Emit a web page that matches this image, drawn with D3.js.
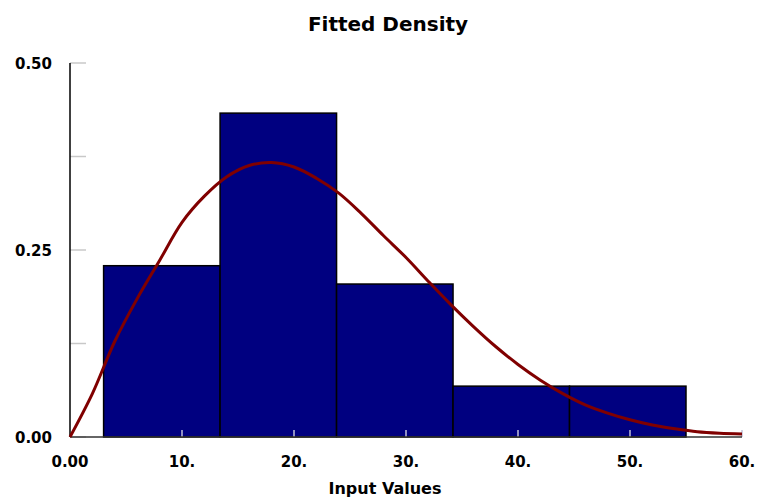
<!DOCTYPE html>
<html><head><meta charset="utf-8">
<script src="https://cdn.jsdelivr.net/npm/d3@7/dist/d3.min.js"></script>
<style>html,body{margin:0;padding:0;background:#fff;}svg{display:block;}</style>
</head><body>
<script>
const title = "Fitted Density";
const xTitle = "Input Values";
const binStarts = [3.0, 13.4, 23.8, 34.2, 44.6];
const binEnds = [13.4, 23.8, 34.2, 44.6, 55.0];
const binDensity = [0.229, 0.433, 0.2045, 0.068, 0.068];
const curveX = [0, 2, 4, 6, 8, 10, 12, 14, 16, 18, 20, 22, 24, 26, 28, 30, 32, 34, 36, 38, 40, 42, 44, 46, 48, 50, 52, 54, 56, 58, 60];
const curveY = [0, 0.058, 0.128, 0.185, 0.236, 0.287, 0.322, 0.348, 0.363, 0.367, 0.361, 0.346, 0.326, 0.299, 0.269, 0.240, 0.208, 0.177, 0.148, 0.121, 0.097, 0.076, 0.058, 0.043, 0.032, 0.023, 0.016, 0.011, 0.007, 0.005, 0.004];
const xTicks = [0, 10, 20, 30, 40, 50, 60];
const xTickLabels = ["0.00", "10.", "20.", "30.", "40.", "50.", "60."];
const yTicks = [0, 0.125, 0.25, 0.375, 0.5];
const yTickLabels = ["0.00", "", "0.25", "", "0.50"];

const W = 757, H = 502;
const svg = d3.select("body").append("svg").attr("width", W).attr("height", H);
const x = d3.scaleLinear().domain([0, 60]).range([70, 742]);
const y = d3.scaleLinear().domain([0, 0.5]).range([437, 63]);
const font = "'DejaVu Sans', Verdana, sans-serif";

// bars
svg.append("g").selectAll("rect").data(binDensity).join("rect")
  .attr("x", (d, i) => x(binStarts[i]))
  .attr("width", (d, i) => x(binEnds[i]) - x(binStarts[i]))
  .attr("y", d => y(d))
  .attr("height", d => y(0) - y(d))
  .attr("fill", "#000080")
  .attr("stroke", "#000")
  .attr("stroke-width", 1.5);

// y ticks (gray, inside)
svg.append("g").selectAll("line").data(yTicks).join("line")
  .attr("x1", x(0)).attr("x2", x(0) + 16)
  .attr("y1", d => y(d)).attr("y2", d => y(d))
  .attr("stroke", "#c8c8c8").attr("stroke-width", 1.5);

// x ticks (light, inside)
svg.append("g").selectAll("line").data(xTicks.slice(1)).join("line")
  .attr("x1", d => x(d)).attr("x2", d => x(d))
  .attr("y1", y(0) - 7).attr("y2", y(0))
  .attr("stroke", "#c0c0d8").attr("stroke-width", 1.5);

// axes lines
svg.append("line").attr("x1", x(0)).attr("x2", x(0)).attr("y1", y(0.5)).attr("y2", y(0))
  .attr("stroke", "#000").attr("stroke-width", 1.5);
svg.append("line").attr("x1", x(0)).attr("x2", x(60)).attr("y1", y(0)).attr("y2", y(0))
  .attr("stroke", "#333").attr("stroke-width", 1.5);

// fitted curve
const pts = curveX.map((v, i) => [v, curveY[i]]);
svg.append("path").datum(pts)
  .attr("d", d3.line().x(d => x(d[0])).y(d => y(d[1])).curve(d3.curveCatmullRom.alpha(0.5)))
  .attr("fill", "none").attr("stroke", "#800000").attr("stroke-width", 3);

// y tick labels
svg.append("g").selectAll("text").data(yTicks).join("text")
  .attr("x", 52).attr("y", d => y(d) + 5.5)
  .attr("text-anchor", "end")
  .attr("font-family", font).attr("font-weight", "bold").attr("font-size", 15)
  .text((d, i) => yTickLabels[i]);

// x tick labels
svg.append("g").selectAll("text").data(xTicks).join("text")
  .attr("x", d => x(d)).attr("y", 467)
  .attr("text-anchor", "middle")
  .attr("font-family", font).attr("font-weight", "bold").attr("font-size", 15)
  .text((d, i) => xTickLabels[i]);

// titles
svg.append("text").attr("x", 388).attr("y", 31).attr("text-anchor", "middle")
  .attr("font-family", font).attr("font-weight", "bold").attr("font-size", 20)
  .text(title);
svg.append("text").attr("x", 385).attr("y", 494).attr("text-anchor", "middle")
  .attr("font-family", font).attr("font-weight", "bold").attr("font-size", 16)
  .text(xTitle);
</script>
</body></html>
